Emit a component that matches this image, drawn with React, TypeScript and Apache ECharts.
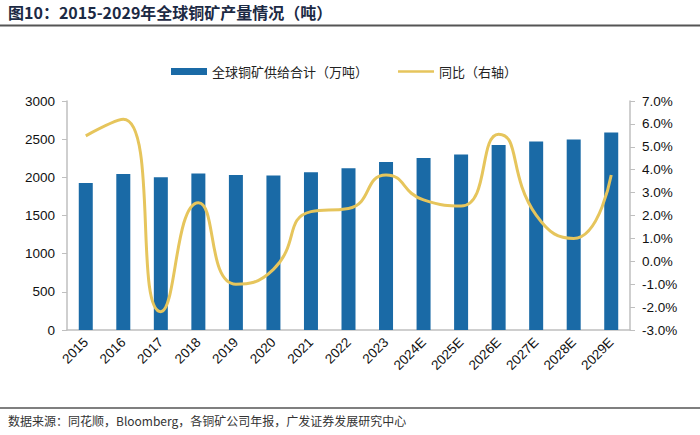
import React, { useEffect, useRef } from "react";
import * as echarts from "echarts";

const categories = ["2015", "2016", "2017", "2018", "2019", "2020", "2021", "2022", "2023", "2024E", "2025E", "2026E", "2027E", "2028E", "2029E"];
const supply = [1926, 2044, 2000, 2050, 2031, 2023, 2068, 2118, 2200, 2253, 2300, 2425, 2470, 2496, 2588];
const yoy = [5.48, 6.2, -2.2, 2.56, -1.0, -0.35, 2.17, 2.31, 3.77, 2.68, 2.41, 5.55, 2.02, 1.0, 3.77];
const leftTicks = { min: 0, max: 3000, interval: 500 };
const rightTicks = { min: -3, max: 7, interval: 1 };

const TITLE = "图10：2015-2029年全球铜矿产量情况（吨）";
const SOURCE = "数据来源：同花顺，Bloomberg，各铜矿公司年报，广发证券发展研究中心";
const BAR_NAME = "全球铜矿供给合计（万吨）";
const LINE_NAME = "同比（右轴）";

export default function App() {
  const ref = useRef<HTMLDivElement>(null);
  useEffect(() => {
    if (!ref.current) return;
    const chart = echarts.init(ref.current, null, { renderer: "svg" });
    const num = "Liberation Sans, Arial, sans-serif";
    const cjk = "Noto Sans CJK SC, sans-serif";
    chart.setOption({
      animation: false,
      backgroundColor: "#ffffff",
      grid: { left: 67, right: 70, top: 101, bottom: 105, containLabel: false },
      legend: {
        left: 166,
        top: 60,
        itemWidth: 36,
        itemHeight: 7,
        itemGap: 30,
        textStyle: { fontFamily: cjk, fontSize: 13, color: "#222" },
        data: [
          { name: BAR_NAME, icon: "rect" },
          { name: LINE_NAME, icon: "path://M0,0H36V2.6H0Z" },
        ],
      },
      xAxis: {
        type: "category",
        data: categories,
        axisLine: { lineStyle: { color: "#bfbfbf", width: 1.5 } },
        axisTick: { show: false },
        axisLabel: {
          rotate: 45,
          fontFamily: num,
          fontSize: 13.5,
          color: "#111",
          margin: 10,
          interval: 0,
        },
      },
      yAxis: [
        {
          type: "value",
          min: leftTicks.min,
          max: leftTicks.max,
          interval: leftTicks.interval,
          splitLine: { show: false },
          axisLine: { show: true, lineStyle: { color: "#bfbfbf", width: 1.5 } },
          axisTick: { show: true, length: 5, lineStyle: { color: "#bfbfbf" } },
          axisLabel: {
            fontFamily: num,
            fontSize: 13.5,
            color: "#111",
            margin: 12,
            formatter: (v: number) => String(v),
          },
        },
        {
          type: "value",
          min: rightTicks.min,
          max: rightTicks.max,
          interval: rightTicks.interval,
          splitLine: { show: false },
          axisLine: { show: true, lineStyle: { color: "#bfbfbf", width: 1.5 } },
          axisTick: { show: true, length: 5, lineStyle: { color: "#bfbfbf" } },
          axisLabel: {
            fontFamily: num,
            fontSize: 13.5,
            color: "#111",
            margin: 12,
            formatter: (v: number) => v.toFixed(1) + "%",
          },
        },
      ],
      series: [
        {
          name: BAR_NAME,
          type: "bar",
          data: supply,
          barWidth: 14,
          itemStyle: { color: "#1a6aa6" },
          yAxisIndex: 0,
        },
        {
          name: LINE_NAME,
          type: "line",
          data: yoy,
          yAxisIndex: 1,
          smooth: 0.55,
          symbol: "none",
          showSymbol: false,
          lineStyle: { color: "#e6c55c", width: 3 },
          itemStyle: { color: "#e6c55c" },
        },
      ],
      graphic: [
        {
          type: "text",
          left: 8,
          top: 4,
          style: {
            text: TITLE,
            fontFamily: cjk,
            fontSize: 16,
            fontWeight: "bold",
            fill: "#1c2a44",
          },
        },
        {
          type: "line",
          shape: { x1: 0, y1: 25.5, x2: 700, y2: 25.5 },
          style: { stroke: "#555", lineWidth: 2 },
        },
        {
          type: "line",
          shape: { x1: 0, y1: 408, x2: 700, y2: 408 },
          style: { stroke: "#555", lineWidth: 1.5 },
        },
        {
          type: "text",
          left: 8,
          top: 414,
          style: {
            text: SOURCE,
            fontFamily: cjk,
            fontSize: 12,
            fill: "#333",
          },
        },
      ],
    });
    return () => chart.dispose();
  }, []);
  return <div ref={ref} style={{ width: 700, height: 435, position: "absolute", left: 0, top: 0 }} />;
}
